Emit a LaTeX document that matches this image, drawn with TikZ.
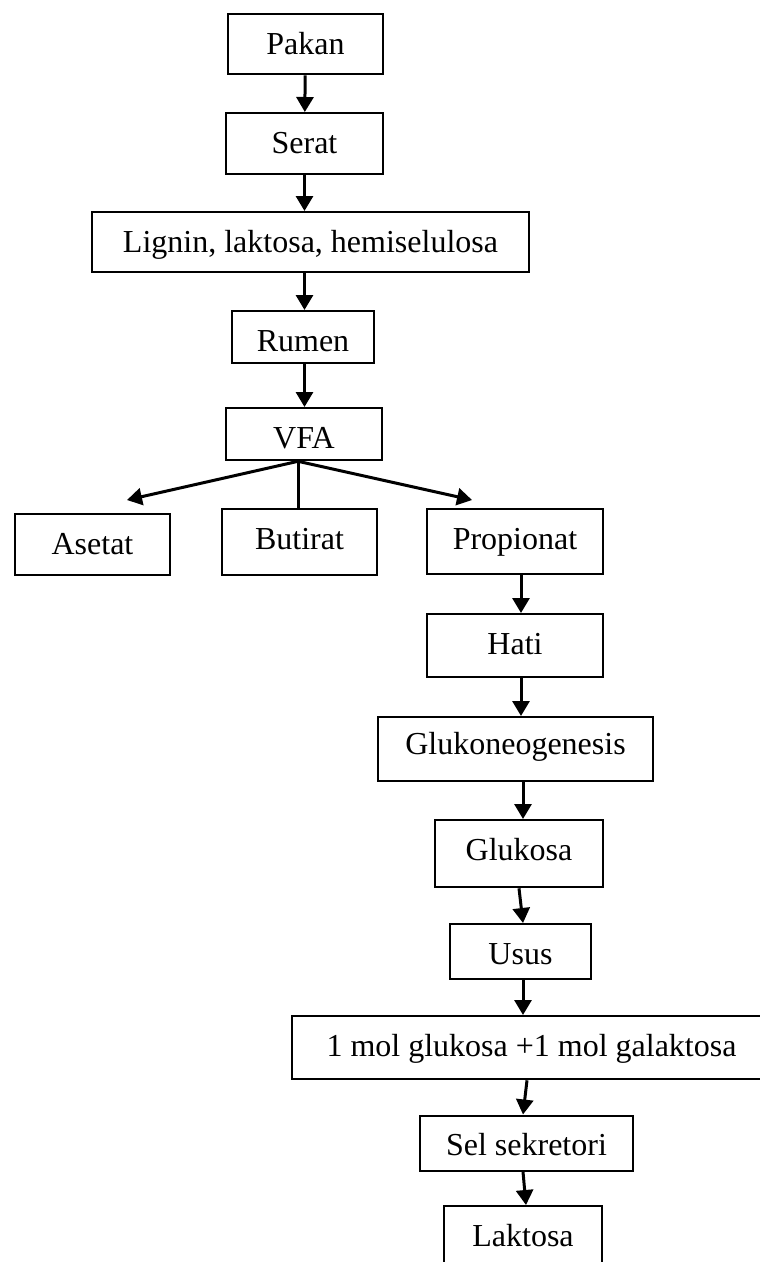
\documentclass[tikz,border=0pt]{standalone}
\usepackage{fontspec}
\setmainfont{Liberation Serif}
\usetikzlibrary{arrows.meta}

\begin{document}
\begin{tikzpicture}[x=1pt,y=-1pt,>={Triangle[length=15pt,width=17pt]},
  box/.style={draw,line width=2.3pt,inner sep=0pt,anchor=north,text height=40pt,
    font=\fontsize{32}{38}\selectfont},
  alur/.style={->,line width=3pt}]
\clip (0,0) rectangle (760,1262);
% main chain
\node[box,minimum width=155pt,text depth=20pt] (pakan) at (305.5,13) {Pakan};
\node[box,minimum width=157pt,text depth=21pt] (serat) at (304.5,112) {Serat};
\node[box,minimum width=437pt,text depth=20pt] (lignin) at (310.5,211) {Lignin, laktosa, hemiselulosa};
\node[box,minimum width=142pt,text depth=12pt] (rumen) at (303,310) {Rumen};
\node[box,minimum width=156pt,text depth=12pt] (vfa) at (304,407) {VFA};
\node[box,minimum width=155pt,text depth=21pt] (asetat) at (92.5,513) {Asetat};
\node[box,minimum width=155pt,text depth=26pt] (butirat) at (299.5,508) {Butirat};
\node[box,minimum width=176pt,text depth=25pt] (propionat) at (515,508) {Propionat};
\node[box,minimum width=176pt,text depth=23pt] (hati) at (515,613) {Hati};
\node[box,minimum width=275pt,text height=37pt,text depth=27pt] (gluko) at (515.5,716) {Glukoneogenesis};
\node[box,minimum width=168pt,text depth=27pt] (glukosa) at (519,819) {Glukosa};
\node[box,minimum width=141pt,text depth=15pt] (usus) at (520.5,923) {Usus};
\node[box,minimum width=479pt,text depth=23pt] (mol) at (531.5,1015) {1 mol glukosa +1 mol galaktosa};
\node[box,minimum width=213pt,text depth=15pt] (sel) at (526.5,1114.5) {Sel sekretori};
\node[box,minimum width=158pt,text depth=25pt] (laktosa) at (523,1205) {Laktosa};

\draw[alur] (pakan) -- (serat);
\draw[alur] (serat) -- (lignin.north -| serat);
\draw[alur] (lignin.south -| serat) -- (rumen.north -| serat);
\draw[alur] (rumen.south -| serat) -- (vfa.north -| serat);

% VFA branches
\coordinate (cabang) at ([xshift=-6pt]vfa.south);
\coordinate (kiri) at (127,500);
\coordinate (kanan) at (472,500);
\draw[alur] (cabang) -- (kiri);
\draw[alur] (cabang) -- (kanan);
\draw[line width=3pt] (cabang) -- (butirat.north -| cabang);

\draw[alur] ([xshift=6pt]propionat.south) -- ([xshift=6pt]hati.north);
\draw[alur] ([xshift=6pt]hati.south) -- ([xshift=5.5pt]gluko.north);
\draw[alur] ([xshift=7.5pt]gluko.south) -- ([xshift=4pt]glukosa.north);
\draw[alur] (glukosa.south) -- ([xshift=2.5pt]usus.north);
\draw[alur] ([xshift=2.5pt]usus.south) -- ([xshift=-8.5pt]mol.north);
\draw[alur] ([xshift=-4.5pt]mol.south) -- ([xshift=-3.5pt]sel.north);
\draw[alur] ([xshift=-3.5pt]sel.south) -- ([xshift=3pt]laktosa.north);
\end{tikzpicture}
\end{document}
